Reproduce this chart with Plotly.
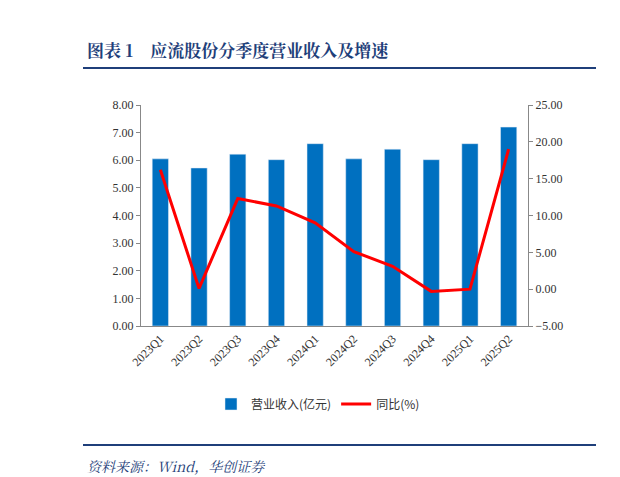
import plotly.graph_objects as go

quarters = ["2023Q1","2023Q2","2023Q3","2023Q4","2024Q1","2024Q2","2024Q3","2024Q4","2025Q1","2025Q2"]
revenue = [6.05, 5.72, 6.22, 6.02, 6.60, 6.05, 6.40, 6.02, 6.60, 7.20]
yoy = [16.2, 0.1, 12.3, 11.3, 9.0, 5.1, 3.1, -0.3, 0.0, 19.0]
left_ticks = [0,1,2,3,4,5,6,7,8]
right_ticks = [-5,0,5,10,15,20,25]

fig = go.Figure()
fig.add_trace(go.Bar(x=quarters, y=revenue, name="营业收入(亿元)", marker_color="#0070C0", width=0.42))
fig.add_trace(go.Scatter(x=quarters, y=yoy, name="同比(%)", yaxis="y2", mode="lines",
                         line=dict(color="#FF0000", width=3)))
font = "Noto Serif CJK SC, Noto Sans CJK SC, serif"
H = 477
fig.update_layout(
    width=620, height=477, margin=dict(l=0, r=0, t=0, b=0, autoexpand=False),
    plot_bgcolor="white", paper_bgcolor="white",
    font=dict(family="Liberation Serif, Noto Sans CJK SC", size=12, color="#333"),
    xaxis=dict(domain=[133/620, 520/620], tickangle=-45, showline=True, linecolor="#888",
               ticks="", tickfont=dict(size=12), automargin=False),
    yaxis=dict(domain=[(H-318)/H, (H-97)/H], range=[0,8], tickvals=left_ticks,
               tickformat=".2f", showgrid=False, showline=True, linecolor="#888", ticks="outside",
               ticklen=4, tickcolor="#888", automargin=False),
    yaxis2=dict(overlaying="y", side="right", range=[-5,25], tickvals=right_ticks, tickformat=".2f",
                showgrid=False, showline=True, linecolor="#888", ticks="outside", ticklen=4,
                tickcolor="#888", anchor="x", automargin=False),
    legend=dict(orientation="h", x=0.5, xanchor="center", y=(H-396)/H, yanchor="middle",
                font=dict(size=12, family="Noto Sans CJK SC")),
    shapes=[
        dict(type="line", xref="paper", yref="paper", x0=75/620, x1=588/620, y0=(H-60)/H, y1=(H-60)/H,
             line=dict(color="#1F3F7A", width=2)),
        dict(type="line", xref="paper", yref="paper", x0=75/620, x1=588/620, y0=(H-437)/H, y1=(H-437)/H,
             line=dict(color="#1F3F7A", width=2)),
        dict(type="line", xref="paper", yref="paper", x0=612/620, x1=620/620, y0=(H-60)/H, y1=(H-60)/H,
             line=dict(color="#1F3F7A", width=2)),
        dict(type="line", xref="paper", yref="paper", x0=612/620, x1=620/620, y0=(H-437)/H, y1=(H-437)/H,
             line=dict(color="#1F3F7A", width=2)),
    ],
    annotations=[
        dict(text="<b>图表 1　应流股份分季度营业收入及增速</b>", xref="paper", yref="paper",
             x=77/620, y=(H-42)/H, xanchor="left", yanchor="middle", showarrow=False,
             font=dict(size=17, color="#1F3F7A", family=font)),
        dict(text="<i>资料来源：Wind，华创证券</i>", xref="paper", yref="paper",
             x=77/620, y=(H-458)/H, xanchor="left", yanchor="middle", showarrow=False,
             font=dict(size=14, color="#1F3F7A", family=font)),
    ],
)
fig.write_html("out.html")
